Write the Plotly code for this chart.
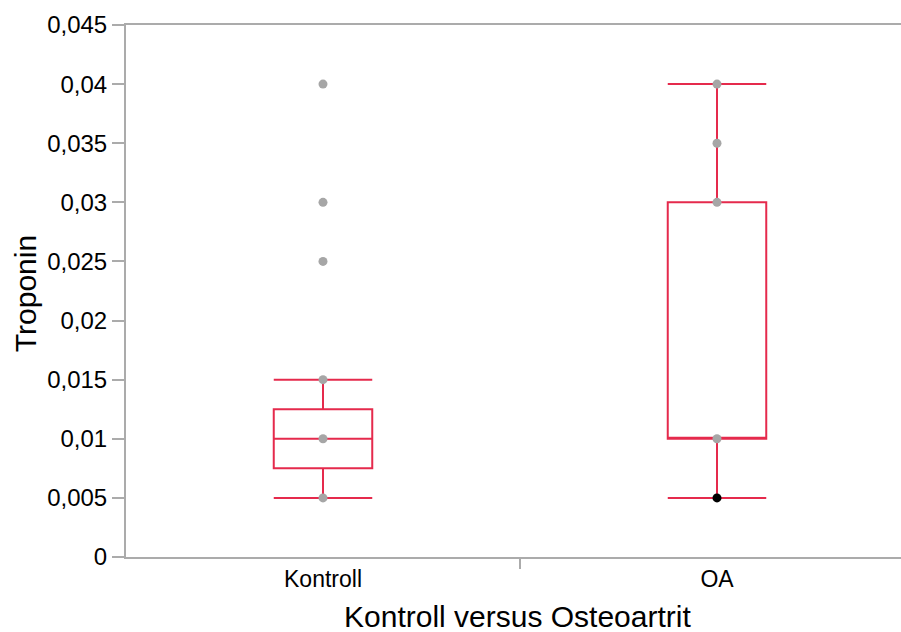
import plotly.graph_objects as go

categories = ["Kontroll", "OA"]
q1 = [0.0075, 0.01]
median = [0.01, 0.01]
q3 = [0.0125, 0.03]
lower_whisker = [0.005, 0.005]
upper_whisker = [0.015, 0.04]

kontroll_points = [0.005, 0.01, 0.015, 0.025, 0.03, 0.04]
oa_points = [0.01, 0.03, 0.035, 0.04]
oa_selected_points = [0.005]

y_tick_vals = [0, 0.005, 0.01, 0.015, 0.02, 0.025, 0.03, 0.035, 0.04, 0.045]
y_tick_text = ["0", "0,005", "0,01", "0,015", "0,02", "0,025", "0,03", "0,035", "0,04", "0,045"]

FONT = "Liberation Sans, Arial, Helvetica, sans-serif"
RED = "#e52a4c"
GREY_AX = "#ababab"
PT = "#a6a6a6"

PLOT_W = 788

fig = go.Figure()
fig.add_trace(go.Box(
    x=categories, q1=q1, median=median, q3=q3,
    lowerfence=lower_whisker, upperfence=upper_whisker,
    line=dict(color=RED, width=2), fillcolor="rgba(0,0,0,0)",
    whiskerwidth=1, width=0.25, boxpoints=False, showlegend=False,
    hoverinfo="skip",
))
fig.add_trace(go.Scatter(
    x=[categories[0]] * len(kontroll_points) + [categories[1]] * len(oa_points),
    y=kontroll_points + oa_points,
    mode="markers", marker=dict(color=PT, size=9), showlegend=False,
))
fig.add_trace(go.Scatter(
    x=[categories[1]] * len(oa_selected_points), y=oa_selected_points,
    mode="markers", marker=dict(color="black", size=9), showlegend=False,
))

fig.add_shape(type="line", xref="x", yref="paper", x0=0.5, x1=0.5, y0=0, y1=-12 / 532,
              line=dict(color=GREY_AX, width=2))

fig.add_annotation(text="Troponin", xref="paper", yref="paper", x=-101 / PLOT_W, y=0.494,
                   xanchor="center", yanchor="middle", textangle=-90, showarrow=False,
                   font=dict(family=FONT, size=30, color="black"))
fig.add_annotation(text="Kontroll versus Osteoartrit", xref="paper", yref="paper",
                   x=391 / PLOT_W, y=-0.111, xanchor="center", yanchor="middle", showarrow=False,
                   font=dict(family=FONT, size=30, color="black"))

fig.update_layout(
    width=126 + PLOT_W, height=632,
    margin=dict(l=126, r=0, t=25, b=75),
    paper_bgcolor="white", plot_bgcolor="white",
    font=dict(family=FONT, size=23, color="black"),
    xaxis=dict(type="category", range=[-0.5, 1.5], showline=True, mirror=True,
               linecolor=GREY_AX, linewidth=2, ticks="", showgrid=False, zeroline=False,
               tickfont=dict(size=23), automargin=False),
    yaxis=dict(range=[0, 0.045], tickvals=y_tick_vals, ticktext=y_tick_text,
               showline=True, linecolor=GREY_AX, linewidth=2, ticks="outside",
               ticklen=12, tickwidth=2, tickcolor=GREY_AX, showgrid=False, zeroline=False,
               tickfont=dict(size=24), automargin=False),
)

fig.write_html(
    "out.html",
    config={"displayModeBar": False},
    post_script="document.body.style.margin='0';document.documentElement.style.overflow='hidden';document.body.style.overflow='hidden';",
)
